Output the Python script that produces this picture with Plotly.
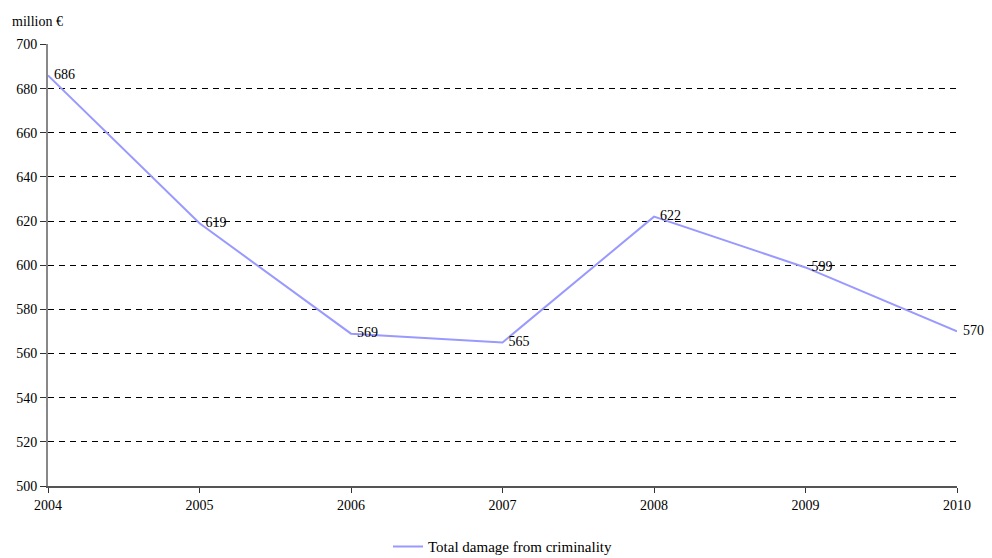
import plotly.graph_objects as go

years = [2004, 2005, 2006, 2007, 2008, 2009, 2010]
damage = [686, 619, 569, 565, 622, 599, 570]
labels = [str(v) for v in damage]
series_name = "Total damage from criminality"
y_ticks = list(range(500, 701, 20))

FONT = "Liberation Serif"

fig = go.Figure()
fig.add_trace(go.Scatter(
    x=years, y=damage, mode="lines+markers+text", name=series_name,
    text=labels, textposition="middle right",
    textfont=dict(family=FONT, size=14, color="black"),
    line=dict(color="#9999ff", width=2),
    marker=dict(size=8, color="rgba(0,0,0,0)"),
    cliponaxis=False,
))

# page body has an 8px margin, so the figure is sized to fill the rest of the window
fig.update_layout(
    width=984, height=550,
    margin=dict(l=40, r=35, t=36, b=72, autoexpand=False),
    paper_bgcolor="white", plot_bgcolor="white",
    font=dict(family=FONT, size=14, color="black"),
    showlegend=True,
    legend=dict(orientation="h", x=0.5, xanchor="center", y=-0.1, yanchor="top",
                font=dict(family=FONT, size=15)),
    xaxis=dict(range=[2004, 2010], tickmode="array", tickvals=years,
               ticktext=[str(y) for y in years], showgrid=False,
               showline=True, linecolor="#555555", linewidth=1.5,
               ticks="outside", ticklen=5, tickcolor="#333333", zeroline=False,
               automargin=False),
    yaxis=dict(range=[500, 700.2], tickmode="array", tickvals=y_ticks,
               showgrid=True, gridcolor="black", gridwidth=1, griddash="6px,5px",
               showline=True, linecolor="#888888", linewidth=2,
               ticks="outside", ticklen=6, tickcolor="#333333", zeroline=False,
               automargin=False),
    annotations=[dict(text="million €", xref="paper", yref="paper", x=-0.042, y=1.03,
                      xanchor="left", yanchor="bottom", showarrow=False,
                      font=dict(family=FONT, size=14))],
)

fig.write_html("out.html")
